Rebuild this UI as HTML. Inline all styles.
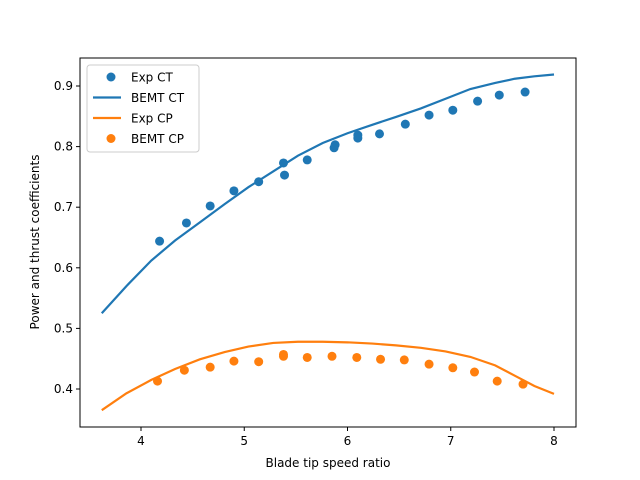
<!DOCTYPE html>
<html><head><meta charset="utf-8"><style>body{margin:0;background:#fff}svg{display:block;font-family:"DejaVu Sans","Liberation Sans",sans-serif}</style></head>
<body>
<svg id="chart" width="640" height="480" xmlns="http://www.w3.org/2000/svg"></svg>
<script>
const expCtX=[4.18,4.44,4.67,4.90,5.14,5.38,5.39,5.61,5.87,5.88,6.10,6.10,6.31,6.56,6.79,7.02,7.26,7.47,7.72];
const expCtY=[0.644,0.674,0.702,0.727,0.742,0.773,0.753,0.778,0.798,0.803,0.814,0.819,0.821,0.837,0.852,0.860,0.875,0.885,0.890];
const bemtX=[3.62,3.86,4.1,4.33,4.57,4.81,5.04,5.28,5.52,5.76,6.0,6.24,6.47,6.71,6.95,7.19,7.43,7.62,7.81,8.0];
const bemtCt=[0.525,0.570,0.612,0.645,0.675,0.705,0.733,0.759,0.785,0.806,0.822,0.836,0.849,0.863,0.879,0.895,0.905,0.912,0.916,0.919];
const bemtCp=[0.365,0.393,0.415,0.433,0.449,0.461,0.470,0.476,0.478,0.478,0.477,0.475,0.472,0.468,0.462,0.453,0.439,0.422,0.405,0.392];
const expCpX=[4.16,4.42,4.67,4.90,5.14,5.38,5.38,5.61,5.85,6.09,6.32,6.55,6.79,7.02,7.23,7.45,7.70];
const expCpY=[0.413,0.431,0.436,0.446,0.445,0.457,0.454,0.452,0.454,0.452,0.449,0.448,0.441,0.435,0.428,0.413,0.408];
const xTicks=[4,5,6,7,8];
const yTicks=[0.4,0.5,0.6,0.7,0.8,0.9];
const X0=80,X1=576,Y0=58,Y1=427;
const sx=v=>141+(v-4)*103.25;
const sy=v=>86+(0.9-v)*606;
const svg=document.getElementById('chart');
const NS='http://www.w3.org/2000/svg';
function mk(t,a,p){const e=document.createElementNS(NS,t);for(const k in a)e.setAttribute(k,a[k]);(p||svg).appendChild(e);return e;}
const C1='#1f77b4',C2='#ff7f0e';
let e;
e=mk('polyline',{points:bemtX.map((x,i)=>sx(x)+','+sy(bemtCt[i])).join(' '),fill:'none',stroke:C1,'stroke-width':2.2});


e=mk('polyline',{points:bemtX.map((x,i)=>sx(x)+','+sy(bemtCp[i])).join(' '),fill:'none',stroke:C2,'stroke-width':2.2});


expCtX.forEach((x,i)=>{e=mk('circle',{cx:sx(x),cy:sy(expCtY[i]),r:4.5,fill:C1});

});
expCpX.forEach((x,i)=>{e=mk('circle',{cx:sx(x),cy:sy(expCpY[i]),r:4.5,fill:C2});

});
e=mk('rect',{x:X0,y:Y0,width:X1-X0,height:Y1-Y0,fill:'none',stroke:'#000','stroke-width':1});


xTicks.forEach(v=>{mk('line',{x1:sx(v),x2:sx(v),y1:Y1,y2:Y1+4,stroke:'#000'});
e=mk('text',{x:sx(v),y:Y1+18,'text-anchor':'middle','font-size':12});e.textContent=v;

});
yTicks.forEach(v=>{mk('line',{x1:X0-4,x2:X0,y1:sy(v),y2:sy(v),stroke:'#000'});
e=mk('text',{x:X0-7,y:sy(v)+4,'text-anchor':'end','font-size':12});e.textContent=v.toFixed(1);

});
e=mk('text',{x:328,y:467,'text-anchor':'middle','font-size':12});e.textContent='Blade tip speed ratio';


e=mk('text',{x:39,y:242,'text-anchor':'middle','font-size':12,transform:'rotate(-90 39 242)'});e.textContent='Power and thrust coefficients';


const lg=mk('g',{});


mk('rect',{x:87,y:65,width:112,height:87,rx:3,fill:'#fff',stroke:'#ccc'},lg);
const items=[['Exp CT',C1,'dot'],['BEMT CT',C1,'line'],['Exp CP',C2,'line'],['BEMT CP',C2,'dot']];
items.forEach((it,i)=>{const y=77+i*20.5;
if(it[2]=='dot')mk('circle',{cx:111,cy:y,r:4.5,fill:it[1]},lg);else mk('line',{x1:93,x2:121,y1:y,y2:y,stroke:it[1],'stroke-width':2.2},lg);
e=mk('text',{x:131,y:y+4.5,'font-size':12},lg);e.textContent=it[0];

});
</script>
</body></html>
